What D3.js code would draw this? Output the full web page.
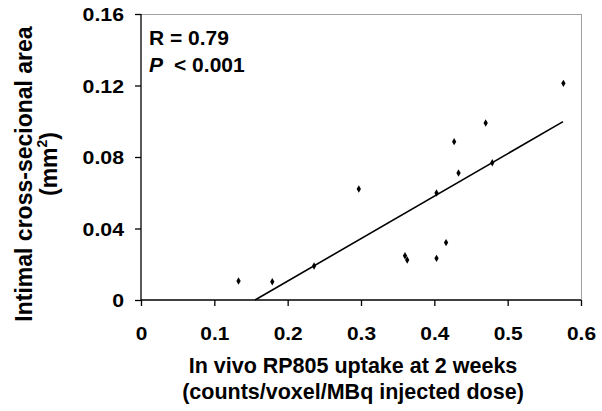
<!DOCTYPE html>
<html>
<head>
<meta charset="utf-8">
<script src="https://cdn.jsdelivr.net/npm/d3@7"></script>
<style>
html,body{margin:0;padding:0;background:#fff;}
svg text{font-family:"Liberation Sans",Arial,sans-serif;font-weight:bold;fill:#000;}
</style>
</head>
<body>
<svg id="chart" width="602" height="411"></svg>
<script>
// Data
const uptake = [0.133, 0.179, 0.236, 0.297, 0.360, 0.363, 0.403, 0.403, 0.416, 0.427, 0.433, 0.470, 0.479, 0.576];
const intimalArea = [0.0106, 0.0102, 0.0190, 0.0621, 0.0248, 0.0224, 0.0599, 0.0233, 0.0321, 0.0886, 0.0710, 0.0990, 0.0768, 0.1212];
const trendX = [0.1555, 0.5755];
const trendY = [0.0, 0.0998];
const xTicks = [0, 0.1, 0.2, 0.3, 0.4, 0.5, 0.6];
const xTickLabels = ["0", "0.1", "0.2", "0.3", "0.4", "0.5", "0.6"];
const yTicks = [0, 0.04, 0.08, 0.12, 0.16];
const yTickLabels = ["0", "0.04", "0.08", "0.12", "0.16"];
const xTitle = ["In vivo RP805 uptake at 2 weeks", "(counts/voxel/MBq injected dose)"];
const yTitle = ["Intimal cross-secional area", "(mm", "2", ")"];
const stats = ["R = 0.79", "P", "< 0.001"];

const svg = d3.select("#chart");
const m = {left: 141, top: 14, right: 581, bottom: 300};
const x = d3.scaleLinear().domain([0, 0.6]).range([m.left, m.right]);
const y = d3.scaleLinear().domain([0, 0.16]).range([m.bottom, m.top]);

// gray frame top & right
svg.append("line").attr("x1", m.left).attr("x2", m.right).attr("y1", m.top + 0.5).attr("y2", m.top + 0.5)
  .attr("stroke", "#a0a0a0").attr("stroke-width", 1);
svg.append("line").attr("x1", m.right + 0.5).attr("x2", m.right + 0.5).attr("y1", m.top).attr("y2", m.bottom)
  .attr("stroke", "#a0a0a0").attr("stroke-width", 1);

// axes
const xAxis = d3.axisBottom(x).tickValues(xTicks).tickSize(6).tickFormat((d, i) => xTickLabels[i]);
const yAxis = d3.axisLeft(y).tickValues(yTicks).tickSize(6).tickFormat((d, i) => yTickLabels[i]);

const gx = svg.append("g").attr("transform", `translate(0,${m.bottom})`).call(xAxis);
gx.select(".domain").attr("d", `M${m.left},0H${m.right}`).attr("stroke", "#000").attr("stroke-width", 1.3);
gx.selectAll(".tick line").attr("stroke", "#000").attr("stroke-width", 1.3);
gx.selectAll(".tick text").attr("font-size", 19).attr("font-family", "Liberation Sans, Arial, sans-serif")
  .attr("font-weight", "bold").attr("y", 0).attr("dy", 0).attr("transform", "translate(0,40) scale(1.1,1)");

const gy = svg.append("g").attr("transform", `translate(${m.left},0)`).call(yAxis);
gy.select(".domain").attr("d", `M0,${m.top}V${m.bottom}`).attr("stroke", "#000").attr("stroke-width", 1.3);
gy.selectAll(".tick line").attr("stroke", "#000").attr("stroke-width", 1.3);
gy.selectAll(".tick text").attr("font-size", 19).attr("font-family", "Liberation Sans, Arial, sans-serif")
  .attr("font-weight", "bold").attr("x", 0).attr("dy", "0.36em").attr("transform", "translate(-17,0) scale(1.12,1)");

// trend line
svg.append("line")
  .attr("x1", x(trendX[0])).attr("y1", y(trendY[0]))
  .attr("x2", x(trendX[1])).attr("y2", y(trendY[1]))
  .attr("stroke", "#000").attr("stroke-width", 1.6);

// points
const sym = d3.symbol().type(d3.symbolDiamond).size(16);
svg.append("g").selectAll("path").data(uptake).join("path")
  .attr("transform", (d, i) => `translate(${x(d)},${y(intimalArea[i])})`)
  .attr("d", sym).attr("fill", "#000");

// stats annotation
svg.append("text").attr("x", 149).attr("y", 45).attr("font-size", 21).text(stats[0]);
const t2 = svg.append("text").attr("x", 149).attr("y", 72).attr("font-size", 21);
t2.append("tspan").attr("font-style", "italic").text(stats[1]);
t2.append("tspan").attr("dx", 11).text(stats[2]);

// x title
svg.append("g").selectAll("text").data(xTitle).join("text")
  .attr("x", 353).attr("y", (d, i) => 373 + i * 26)
  .attr("text-anchor", "middle").attr("font-size", 21.5).text(d => d);

// y title
svg.append("text").attr("transform", "translate(32,174) rotate(-90)")
  .attr("text-anchor", "middle").attr("font-size", 23).text(yTitle[0]);
const yt2 = svg.append("text").attr("transform", "translate(57,164) rotate(-90)")
  .attr("text-anchor", "middle").attr("font-size", 23);
yt2.append("tspan").text(yTitle[1]);
yt2.append("tspan").attr("font-size", 14).attr("dy", -10).text(yTitle[2]);
yt2.append("tspan").attr("dy", 10).text(yTitle[3]);
</script>
</body>
</html>
